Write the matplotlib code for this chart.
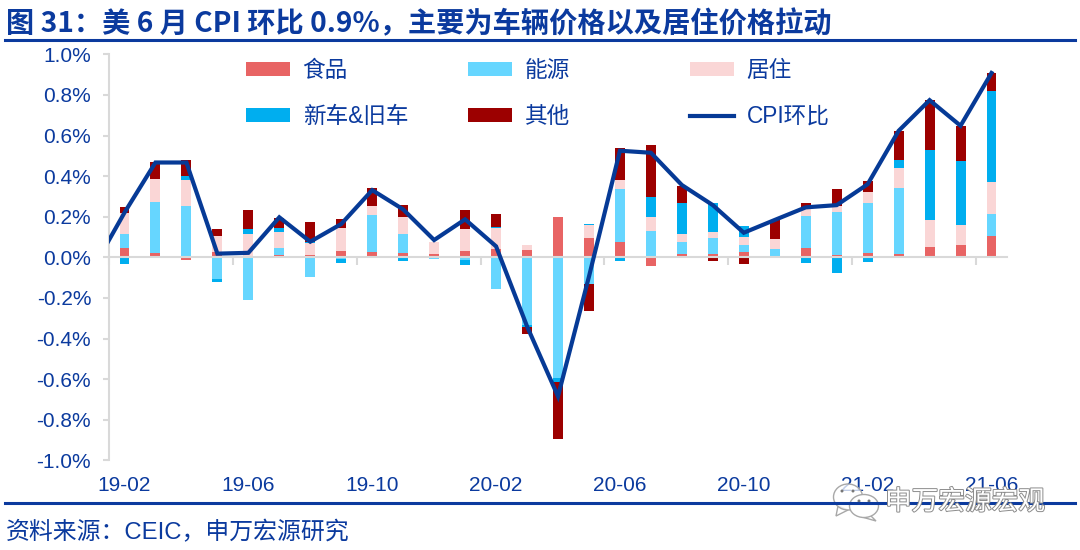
import numpy as np
import matplotlib
matplotlib.use("Agg")
import matplotlib.pyplot as plt
from matplotlib.patches import Ellipse, Polygon
import matplotlib.patheffects as pe

plt.rcParams['font.family'] = ['Liberation Sans', 'Noto Sans CJK SC', 'DejaVu Sans']

# mois affiches (une etiquette sur quatre)
labels_mois = ["19-02", "19-06", "19-10", "20-02", "20-06", "20-10", "21-02", "21-06"]
labels_y = ["-1.0%", "-0.8%", "-0.6%", "-0.4%", "-0.2%", "0.0%", "0.2%", "0.4%", "0.6%", "0.8%", "1.0%"]

# contributions en %: 19-02 ... 21-06
aliments = [0.044, 0.02, -0.012, 0.025, 0.003, 0.012, 0.01, 0.03, 0.026, 0.023, 0.018, 0.03, 0.04, 0.036, 0.20,
            0.095, 0.077, -0.044, 0.016, 0.016, 0.026, -0.004, 0.046, 0.011, 0.023, 0.016, 0.052, 0.061, 0.107]
energie = [0.07, 0.25, 0.255, -0.105, -0.21, 0.034, -0.095, -0.008, 0.182, 0.092, -0.008, -0.015, -0.157, -0.333, -0.595,
           -0.13, 0.257, 0.128, 0.057, 0.08, 0.036, 0.043, 0.157, 0.213, 0.243, 0.326, -0.005, 0.0, 0.107]
logement = [0.105, 0.118, 0.128, 0.082, 0.11, 0.08, 0.06, 0.113, 0.046, 0.085, 0.059, 0.108, 0.105, 0.023, 0.0,
            0.064, 0.046, 0.069, 0.044, 0.031, 0.039, 0.046, 0.034, 0.03, 0.056, 0.10, 0.131, 0.097, 0.159]
voitures = [-0.035, -0.005, 0.016, -0.016, 0.025, 0.02, 0.005, -0.022, -0.005, -0.02, 0.0, -0.025, 0.006, -0.012, -0.02,
            0.007, -0.016, 0.098, 0.149, 0.141, 0.052, 0.0, -0.026, -0.075, -0.021, 0.039, 0.348, 0.315, 0.448]
autres = [0.03, 0.082, 0.079, 0.033, 0.097, 0.048, 0.098, 0.048, 0.088, 0.056, 0.0, 0.093, 0.06, -0.034, -0.282,
          -0.134, 0.16, 0.26, 0.084, -0.018, -0.034, 0.095, 0.031, 0.08, 0.054, 0.139, 0.246, 0.174, 0.085]

# CPI : le premier point (19-01) sort du cadre, seul le debut du segment se voit
cpi = [-0.05, 0.22, 0.467, 0.467, 0.018, 0.022, 0.197, 0.077, 0.164, 0.331, 0.236, 0.085, 0.187, 0.054, -0.34, -0.685,
       -0.095, 0.525, 0.515, 0.356, 0.257, 0.121, 0.184, 0.246, 0.257, 0.36, 0.623, 0.774, 0.648, 0.908]

bleu = "#0B3A9E"
gris = "#D9D9D9"

fig = plt.figure(figsize=(10.8, 5.5), dpi=100)
ax = fig.add_axes([109 / 1080, 1 - 460.3 / 550, (1007 - 109) / 1080, (460.3 - 54.3) / 550])

# barres empilees, positifs et negatifs separement
x = np.arange(len(aliments))
series = [(aliments, "#E86464", "食品"), (energie, "#66D6FF", "能源"), (logement, "#FAD6D6", "居住"),
          (voitures, "#00AEEF", "新车&旧车"), (autres, "#9C0000", "其他")]
bas_pos = np.zeros(len(x))
bas_neg = np.zeros(len(x))
barres = {}
for valeurs, couleur, nom in series:
    v = np.array(valeurs)
    bas = np.where(v >= 0, bas_pos, bas_neg)
    barres[nom] = ax.bar(x, v, 0.32, bottom=bas, color=couleur, label=nom, zorder=2)
    bas_pos = bas_pos + np.clip(v, 0, None)
    bas_neg = bas_neg + np.clip(v, None, 0)

ligne, = ax.plot(np.arange(-1, len(x)), cpi, color="#063A96", lw=3, label="CPI环比", zorder=3, solid_joinstyle="miter")

ax.set_xlim(-0.5, len(x) - 0.5)
ax.set_ylim(-1, 1)
ax.set_yticks(np.linspace(-1, 1, 11))
ax.set_yticklabels(labels_y, fontsize=15, color=bleu)
ax.tick_params(axis="y", color=gris, width=1.5, length=4.3, pad=8.5)

# graduations x sur la ligne zero, entre les mois
ax.set_xticks(np.arange(-0.5, len(x), 4))
ax.set_xticklabels([])
ax.tick_params(axis="x", color=gris, width=1.5, length=6)
ax.spines["bottom"].set_position(("data", 0))
ax.spines["bottom"].set_zorder(2.5)
for s in ["top", "right"]:
    ax.spines[s].set_visible(False)
for s in ["left", "bottom"]:
    ax.spines[s].set_color(gris)
    ax.spines[s].set_linewidth(1.5)

# etiquettes en bas du cadre
sec = ax.secondary_xaxis("bottom")
sec.set_xticks(np.arange(0, len(x), 4))
sec.set_xticklabels(labels_mois, fontsize=15, color=bleu)
sec.tick_params(length=0, pad=11.5)
sec.spines["bottom"].set_visible(False)

# legende : une colonne a la fois pour garder la grille reguliere
colonnes = [(246, [barres["食品"], barres["新车&旧车"]], ["食品", "新车&旧车"]),
            (468, [barres["能源"], barres["其他"]], ["能源", "其他"]),
            (690, [barres["居住"], ligne], ["居住", "CPI环比"])]
for gauche, poignees, textes in colonnes:
    fig.legend(poignees, textes, loc="upper left", bbox_to_anchor=(gauche / 1080, 1 - 59 / 550), frameon=False,
               fontsize=16.3, labelcolor=bleu, handlelength=1.95, handleheight=0.58, handletextpad=0.55,
               labelspacing=1.02, borderpad=0, borderaxespad=0)

# titre, filets et source
fig.text(6 / 1080, 1 - 24 / 550, "图 31：美 6 月 CPI 环比 0.9%，主要为车辆价格以及居住价格拉动", fontsize=20.3,
         fontweight="bold", color=bleu, va="center", family=['Noto Sans CJK SC', 'DejaVu Sans'])
fig.add_artist(plt.Line2D([5 / 1080, 1075 / 1080], [1 - 40 / 550] * 2, color=bleu, lw=2.2))
fig.add_artist(plt.Line2D([5 / 1080, 1075 / 1080], [1 - 503 / 550] * 2, color=bleu, lw=2.2))
fig.text(6 / 1080, 1 - 533 / 550, "资料来源：CEIC，申万宏源研究", fontsize=17.2, color=bleu, va="center")

# filigrane : les deux bulles et le texte
def px(a, b):
    return a / 1080, 1 - b / 550

bulles = [(848, 497, 29, 26, 0.75, [(838, 506), (836, 516), (848, 510)], [(842, 491), (853, 491)]),
          (864, 506, 29, 23, 1.0, [(870, 515), (876, 521), (862, 517)], [(859, 501), (869, 501)])]
for cx, cy, w, h, opacite, queue, yeux in bulles:
    fig.add_artist(Polygon([px(*p) for p in queue], transform=fig.transFigure, facecolor=(1, 1, 1, opacite),
                           edgecolor="#A8A8A8", lw=1))
    fig.add_artist(Ellipse(px(cx, cy), w / 1080, h / 550, transform=fig.transFigure,
                           facecolor=(1, 1, 1, opacite), edgecolor="#A8A8A8", lw=1))
    for ex, ey in yeux:
        fig.add_artist(Ellipse(px(ex, ey), 3 / 1080, 3 / 550, transform=fig.transFigure, facecolor="#777777", lw=0))
fig.text(885 / 1080, 1 - 502 / 550, "申万宏源宏观", fontsize=19.2, color="white", va="center",
         family=['Noto Sans CJK SC', 'DejaVu Sans'],
         path_effects=[pe.withStroke(linewidth=1.4, foreground="#8C8C8C")])

fig.savefig("out.png", dpi=100)
